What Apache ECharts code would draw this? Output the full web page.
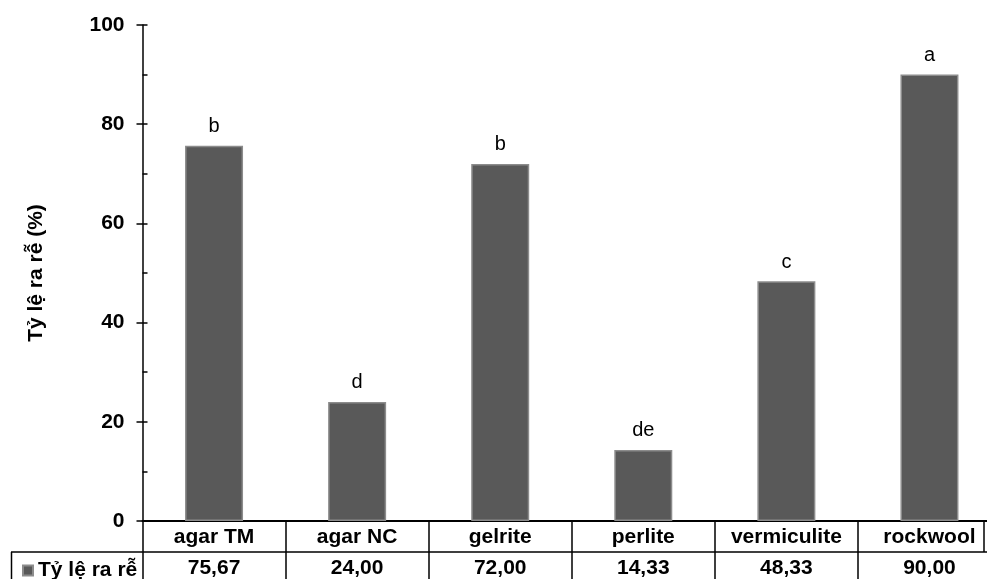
<!DOCTYPE html>
<html>
<head>
<meta charset="utf-8">
<script src="https://cdn.jsdelivr.net/npm/echarts@6/dist/echarts.min.js"></script>
<style>
  html, body { margin: 0; padding: 0; background: #fff; overflow: hidden; }
  /* the data table runs a little past the right edge of the window */
  #chart { width: 1001px; height: 579px; }
</style>
</head>
<body>
<div id="chart"></div>
<script>
// Rooting rate by culture substrate
const categories = ['agar TM', 'agar NC', 'gelrite', 'perlite', 'vermiculite', 'rockwool'];
const rootingRate = [75.67, 24.00, 72.00, 14.33, 48.33, 90.00];
const groupLetters = ['b', 'd', 'b', 'de', 'c', 'a'];
const yTicks = [0, 20, 40, 60, 80, 100];
const seriesName = 'Tỷ lệ ra rễ';

const FONT = '"Liberation Sans", Arial, sans-serif';
const chart = echarts.init(document.getElementById('chart'), null, { renderer: 'canvas' });

const fmt = v => v.toFixed(2).replace('.', ',');

chart.setOption({
  backgroundColor: '#fff',
  animation: false,
  textStyle: { fontFamily: FONT },
  grid: { left: 142.5, right: 0, top: 25, bottom: 58, containLabel: false },
  legend: {
    data: [{ name: seriesName, icon: 'rect' }],
    left: 17, top: 555,
    itemWidth: 10, itemHeight: 10, itemGap: 4,
    textStyle: { fontFamily: FONT, fontWeight: 'bold', fontSize: 21, color: '#000' },
    selectedMode: false
  },
  xAxis: [
    {
      type: 'category', data: categories, position: 'bottom',
      axisLine: { show: true, onZero: false, lineStyle: { color: '#000', width: 2 } },
      axisTick: { show: true, length: 60, interval: 0, lineStyle: { color: '#000', width: 1.5 } },
      axisLabel: { interval: 0, margin: 6, fontFamily: FONT, fontWeight: 'bold', fontSize: 21, color: '#000' }
    },
    {
      type: 'category', data: categories, position: 'bottom', offset: 31,
      axisLine: { show: true, onZero: false, lineStyle: { color: '#000', width: 1.5 } },
      axisTick: { show: false },
      axisLabel: {
        interval: 0, margin: 6, fontFamily: FONT, fontWeight: 'bold', fontSize: 21, color: '#000',
        formatter: (v, i) => fmt(rootingRate[i])
      }
    }
  ],
  yAxis: [
    {
      type: 'value', min: yTicks[0], max: yTicks[yTicks.length - 1], interval: 20,
      name: 'Tỷ lệ ra rễ (%)', nameLocation: 'middle', nameRotate: 90, nameGap: 96,
      nameTextStyle: { fontFamily: FONT, fontWeight: 'bold', fontSize: 21, color: '#000' },
      axisLine: { show: true, lineStyle: { color: '#000', width: 1.5 } },
      axisTick: { show: true, length: 6, lineStyle: { color: '#000', width: 1.5 } },
      axisLabel: { margin: 18, fontFamily: FONT, fontWeight: 'bold', fontSize: 21, color: '#000' },
      splitLine: { show: false }
    },
    {
      type: 'value', min: 0, max: 100, interval: 10, position: 'left',
      axisLine: { show: false },
      axisTick: { show: true, inside: true, length: 5, lineStyle: { color: '#000', width: 1.5 } },
      axisLabel: { show: false },
      splitLine: { show: false }
    }
  ],
  graphic: [
    // legend cell of the data table
    { type: 'line', shape: { x1: 11, y1: 552, x2: 142, y2: 552 }, style: { stroke: '#000', lineWidth: 1.5 } },
    { type: 'line', shape: { x1: 11.5, y1: 552, x2: 11.5, y2: 579 }, style: { stroke: '#000', lineWidth: 1.5 } },
    // right border of the category row
    { type: 'line', shape: { x1: 984, y1: 521, x2: 984, y2: 552 }, style: { stroke: '#000', lineWidth: 1.5 } }
  ],
  series: [{
    name: seriesName,
    type: 'bar',
    xAxisIndex: 0, yAxisIndex: 0,
    data: rootingRate,
    barWidth: 58,
    itemStyle: { color: '#595959', borderColor: '#8c8c8c', borderWidth: 1.5 },
    label: {
      show: true, position: 'top', distance: 9,
      fontFamily: FONT, fontSize: 20, color: '#000',
      formatter: p => groupLetters[p.dataIndex]
    }
  }]
});
</script>
</body>
</html>
